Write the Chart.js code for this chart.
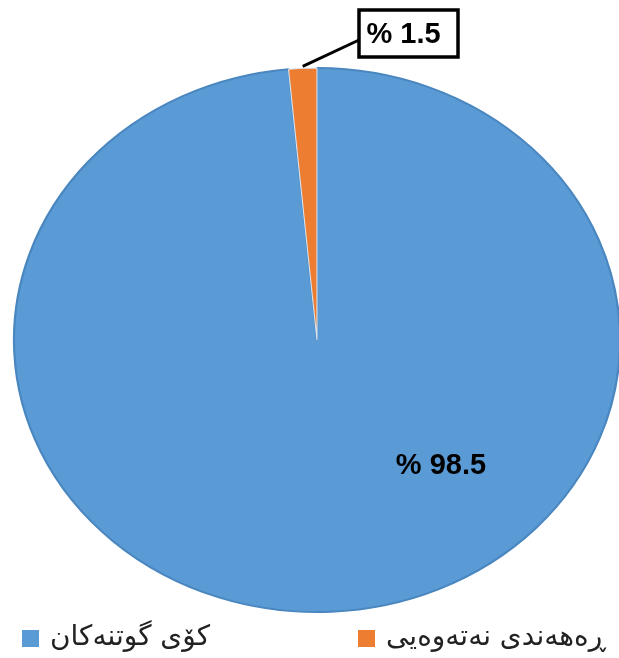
<!DOCTYPE html>
<html>
<head>
<meta charset="utf-8">
<script src="https://cdn.jsdelivr.net/npm/chart.js@4/dist/chart.umd.min.js"></script>
<style>
  html, body { margin:0; padding:0; background:#fff; }
  #wrap { width:619px; height:658px; position:relative; }
</style>
</head>
<body>
<div id="wrap"><canvas id="pieChart"></canvas></div>
<script>
// data
const categories = ["کۆی گوتنەکان", "ڕەهەندی نەتەوەیی"];
const shares = [98.5, 1.5];
const sliceColors = ["#5B9BD5", "#ED7D31"];
const shareLabels = shares.map(v => "% " + v);

// the original pie is an ellipse, wider than tall
const STRETCH_X = 303 / 272;

const ellipsePlugin = {
  id: "ellipse",
  beforeDatasetsDraw(chart){
    const arc = chart.getDatasetMeta(0).data[0];
    const ctx = chart.ctx;
    ctx.save();
    ctx.translate(arc.x, arc.y);
    ctx.scale(STRETCH_X, 1);
    ctx.translate(-arc.x, -arc.y);
  },
  afterDatasetsDraw(chart){
    const ctx = chart.ctx;
    ctx.restore();

    const meta = chart.getDatasetMeta(0);
    const big = meta.data[0], small = meta.data[1];
    ctx.save();
    ctx.font = "bold 29px 'Liberation Sans', Arial, sans-serif";
    ctx.fillStyle = "#000";
    ctx.textAlign = "center";
    ctx.textBaseline = "middle";

    // big slice label
    ctx.fillText(shareLabels[0], big.x + 124, big.y + 126);

    // small slice: leader line + boxed label
    const a = (small.startAngle + small.endAngle) / 2;
    const px = small.x + Math.cos(a) * small.outerRadius * STRETCH_X;
    const py = small.y + Math.sin(a) * small.outerRadius;
    const bx = 359, by = 10, bw = 99, bh = 47;
    ctx.strokeStyle = "#000";
    ctx.lineWidth = 3;
    ctx.beginPath();
    ctx.moveTo(px, py - 2);
    ctx.lineTo(bx, by + 30);
    ctx.stroke();
    ctx.fillStyle = "#fff";
    ctx.fillRect(bx, by, bw, bh);
    ctx.lineWidth = 3.5;
    ctx.strokeRect(bx, by, bw, bh);
    ctx.fillStyle = "#000";
    ctx.fillText(shareLabels[1], bx + bw/2 - 5, by + bh/2 + 1);
    ctx.restore();
  }
};

const legendPlugin = {
  id: "flatLegend",
  afterDraw(chart){
    const ctx = chart.ctx;
    const spots = [22, 358];
    ctx.save();
    ctx.font = "28px 'DejaVu Sans', sans-serif";
    ctx.textBaseline = "middle";
    ctx.textAlign = "left";
    categories.forEach((name, i) => {
      const x = spots[i];
      ctx.fillStyle = sliceColors[i];
      ctx.fillRect(x, 630, 17, 17);
      ctx.fillStyle = "#222";
      ctx.fillText(name, x + 28, 638);
    });
    ctx.restore();
  }
};

new Chart(document.getElementById("pieChart"), {
  type: "pie",
  data: {
    labels: categories,
    datasets: [{
      data: shares,
      backgroundColor: sliceColors,
      borderColor: ["#4A86BF", "#d9e6f2"],
      borderWidth: [2, 1]
    }]
  },
  options: {
    responsive: true,
    maintainAspectRatio: false,
    animation: false,
    radius: 272,
    layout: { padding: { left: 15, right: 0, top: 68, bottom: 46 } },
    plugins: { legend: { display: false }, tooltip: { enabled: false } }
  },
  plugins: [ellipsePlugin, legendPlugin]
});
</script>
</body>
</html>
